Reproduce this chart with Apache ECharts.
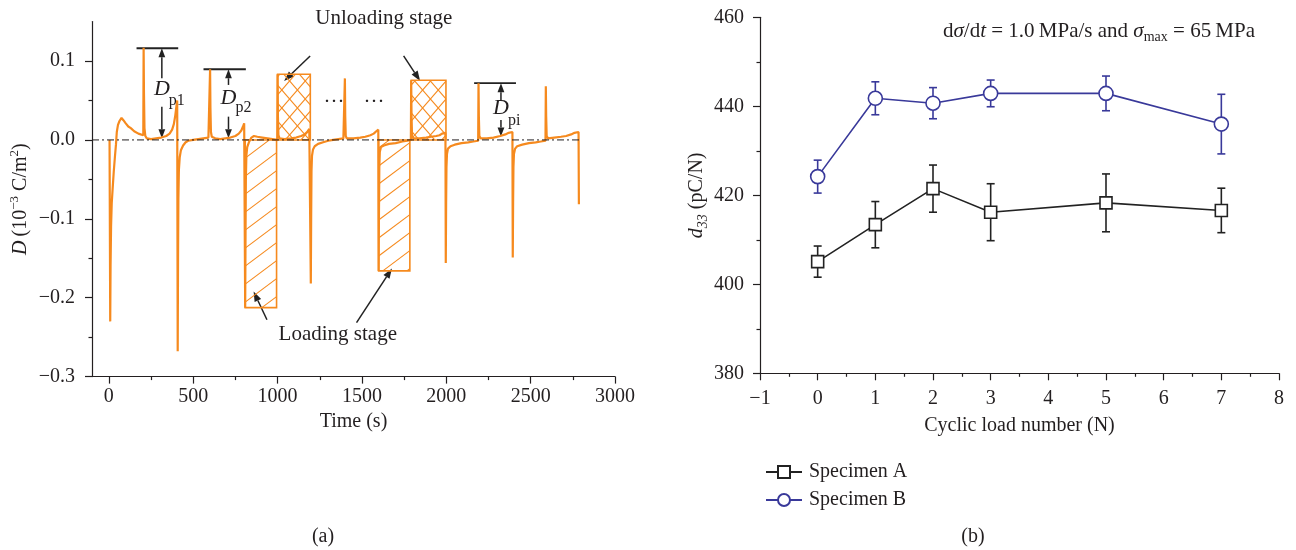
<!DOCTYPE html>
<html><head><meta charset="utf-8">
<script src="https://cdn.jsdelivr.net/npm/echarts@6/dist/echarts.min.js"></script>
<style>html,body{margin:0;padding:0;background:#fff}#c{width:1296px;height:550px}</style>
</head><body><div id="c"></div>
<script>
// ---------- Panel (a): D (10^-3 C/m^2) versus time (s) ----------
const curveCycle1 = [[4,0],[8,-0.23],[10,-0.16],[13,-0.11],[17,-0.08],[22,-0.063],[29,-0.04],[36,-0.021],[42,-0.006],[47,0.01],[54,0.019],[63,0.024],[75,0.028],[86,0.025],[100,0.021],[115,0.017],[130,0.015],[150,0.011],[175,0.008],[204,0.006],
  [206,0.117],[208,0.06],[211,0.015],[216,0.005],[225,0.002],[250,0.001],[280,0.002],[310,0.003],[340,0.005],[360,0.008],[375,0.013],[385,0.02],[393,0.03],[400,0.042],[405,0.05]];
const curveCycle2 = [[408,-0.268],[410,-0.15],[412,-0.075],[415,-0.038],[420,-0.022],[427,-0.013],[440,-0.007],[455,-0.003],[470,-0.001],[500,0.0],[530,0.001],[560,0.002],[590,0.003],[598,0.003],
  [600,0.0896],[602,0.04],[605,0.01],[610,0.004],[630,0.002],[660,0.001],[690,0.002],[720,0.003],[750,0.005],[770,0.008],[785,0.012],[795,0.017],[802,0.021],[806,0.021]];
const curveCycle3 = [[808,-0.2126],[810,-0.12],[812,-0.05],[815,-0.02],[820,-0.009],[830,-0.003],[845,0.003],[860,0.005],[880,0.004],[910,0.003],[940,0.002],[970,0.001],[998,0.0],
  [1000,0.0833],[1002,0.03],[1005,0.006],[1012,0.002],[1040,0.001],[1080,0.002],[1110,0.003],[1140,0.005],[1160,0.007],[1175,0.01],[1188,0.014],[1195,0.016]];
const curveCycle4 = [[1197,-0.182],[1199,-0.1],[1201,-0.04],[1204,-0.02],[1210,-0.012],[1220,-0.008],[1240,-0.005],[1270,-0.003],[1300,-0.001],[1330,0.0],[1360,0.001],[1390,0.002],[1397,0.002],
  [1399,0.078],[1401,0.03],[1404,0.005],[1410,0.002],[1450,0.002],[1490,0.003],[1520,0.004],[1550,0.006],[1570,0.008],[1585,0.011],[1597,0.013]];
const curveCycle5 = [[1599,-0.166],[1601,-0.09],[1603,-0.035],[1606,-0.015],[1613,-0.009],[1630,-0.007],[1660,-0.005],[1700,-0.004],[1740,-0.002],[1770,-0.001],[1790,0.0],
  [1792,0.0756],[1794,0.03],[1797,0.005],[1805,0.002],[1840,0.002],[1880,0.003],[1910,0.004],[1940,0.005],[1960,0.006],[1975,0.008],[1995,0.009]];
const curveCycle6 = [[1997,-0.156],[1999,-0.08],[2001,-0.035],[2004,-0.018],[2010,-0.011],[2025,-0.008],[2050,-0.006],[2090,-0.004],[2130,-0.003],[2160,-0.002],[2189,-0.001],
  [2191,0.0719],[2193,0.03],[2196,0.005],[2204,0.002],[2240,0.002],[2280,0.003],[2320,0.005],[2350,0.007],[2370,0.009],[2392,0.01]];
const curveCycle7 = [[2394,-0.149],[2396,-0.08],[2398,-0.035],[2401,-0.018],[2408,-0.011],[2420,-0.008],[2450,-0.006],[2490,-0.004],[2530,-0.003],[2560,-0.002],[2588,-0.001],
  [2590,0.068],[2592,0.03],[2595,0.005],[2603,0.002],[2640,0.003],[2680,0.004],[2710,0.005],[2740,0.007],[2760,0.009],[2784,0.01]];
const curveEnd = [[2786,-0.0815]];

const timeTicks = [0,500,1000,1500,2000,2500,3000];
const timeMinorTicks = [250,750,1250,1750,2250,2750];
const dTicks = [-0.3,-0.2,-0.1,0,0.1];
const dMinorTicks = [-0.25,-0.15,-0.05,0.05];
const zeroLine = [[-100,0],[2800,0]];

// hatched stages: [t start, t end, D low, D high]
const loadingStages = [[808,994,-0.2126,0],[1599,1784,-0.166,0]];
const unloadingStages = [[1000,1194,0,0.0833],[1792,1998,0,0.0756]];

// ---------- Panel (b): d33 (pC/N) versus cyclic load number ----------
const cycleNumbers = [0,1,2,3,5,7];
const specimenA = [405.1,413.4,421.5,416.2,418.3,416.6];
const specimenAErr = [3.5,5.2,5.3,6.4,6.5,5.0];
const specimenB = [424.2,441.8,440.7,442.9,442.9,436.0];
const specimenBErr = [3.7,3.7,3.5,3.0,3.9,6.7];

// ---------- annotations of panel (a), in data units ----------
const stageArrows = [
  {from:[1193,0.1065], to:[1039,0.0748]},
  {from:[1747,0.1065], to:[1845,0.0748]},
  {from:[937,-0.228], to:[858,-0.192]},
  {from:[1468,-0.2316], to:[1678,-0.163]}
];
const peakMarks = [
  {sub:'p1', bar:[164,411], t:314, top:0.1162, s1:0.0782, s2:0.0422, bottom:0.0022, dY:0.0646, subY:0.0494},
  {sub:'p2', bar:[561,812], t:709, top:0.0896, s1:0.0697, s2:0.0295, bottom:0.0022, dY:0.0529, subY:0.0412},
  {sub:'pi', bar:[2165,2413], t:2324, top:0.0719, s1:0.0507, s2:0.0253, bottom:0.0042, dY:0.0402, subY:0.0241}
];
const textNotes = [
  {text:'Unloading stage', at:[1630,0.154]},
  {text:'Loading stage', at:[1357,-0.246]},
  {text:'···', at:[1334,0.047]},
  {text:'···', at:[1571,0.047]}
];

const ORANGE = '#f68a1e', INK = '#231f20', BLUE = '#39399a';
const FONT = "'Liberation Serif','Times New Roman',serif";
const FS = 20;

const curve = [].concat(curveCycle1, curveCycle2, curveCycle3, curveCycle4, curveCycle5, curveCycle6, curveCycle7, curveEnd);

function minusFmt(v, digits){
  if (Math.abs(v) < 1e-9) return digits ? (0).toFixed(digits) : '0';
  const s = digits ? Math.abs(v).toFixed(digits) : String(Math.abs(v));
  return (v < 0 ? '\u2212' : '') + s;
}

function hatch(L,T,R,B,k,step){
  const cs=[T+k*L,T+k*R,B+k*L,B+k*R];
  const cMin=Math.min.apply(null,cs), cMax=Math.max.apply(null,cs);
  const segs=[];
  for(let c=Math.ceil(cMin/step)*step; c<=cMax; c+=step){
    const xa=(c-B)/k, xb=(c-T)/k;
    const lo=Math.max(L,Math.min(xa,xb)), hi=Math.min(R,Math.max(xa,xb));
    if(hi>lo+0.5) segs.push({x1:lo,y1:c-k*lo,x2:hi,y2:c-k*hi});
  }
  return segs;
}
function hatchRender(families, step){
  return function(params, api){
    const a = api.coord([api.value(0), api.value(3)]);
    const b = api.coord([api.value(1), api.value(2)]);
    const L=a[0],T=a[1],R=b[0],B=b[1];
    const children=[];
    families.forEach(k=>hatch(L,T,R,B,k,step).forEach(s=>children.push({type:'line',shape:s,style:{stroke:ORANGE,lineWidth:1.1}})));
    children.push({type:'rect',shape:{x:L,y:T,width:R-L,height:B-T},style:{fill:null,stroke:ORANGE,lineWidth:1.6}});
    return {type:'group',children};
  };
}
function errRender(color){
  return function(params, api){
    const x=api.value(0), lo=api.value(1), hi=api.value(2);
    const p1=api.coord([x,hi]), p2=api.coord([x,lo]), w=4;
    const st={stroke:color,lineWidth:1.6};
    return {type:'group',children:[
      {type:'line',shape:{x1:p1[0],y1:p1[1],x2:p2[0],y2:p2[1]},style:st},
      {type:'line',shape:{x1:p1[0]-w,y1:p1[1],x2:p1[0]+w,y2:p1[1]},style:st},
      {type:'line',shape:{x1:p2[0]-w,y1:p2[1],x2:p2[0]+w,y2:p2[1]},style:st}
    ]};
  };
}

const axisLineS = {onZero:false, lineStyle:{color:INK,width:1.2}};
const hiddenLine = {show:false, onZero:false};
const tickS = {length:7, lineStyle:{color:INK,width:1.2}};
const minorS = {show:true, splitNumber:2, length:3.5, lineStyle:{color:INK,width:1.2}};
const labelS = {color:INK, fontFamily:FONT, fontSize:FS};
const nameS = {color:INK, fontFamily:FONT, fontSize:FS};

const chart = echarts.init(document.getElementById('c'), null, {renderer:'canvas'});
const option = {
  animation:false,
  backgroundColor:'#fff',
  textStyle:{fontFamily:FONT},
  grid:[
    {left:92, top:21.6, width:523, height:355},
    {left:760, top:17.3, width:519, height:356}
  ],
  legend:{
    data:['Specimen A','Specimen B'], orient:'vertical', left:760, top:457,
    itemWidth:36, itemHeight:15, itemGap:8,
    textStyle:{color:INK, fontFamily:FONT, fontSize:FS, padding:[0,0,0,2]}
  },
  xAxis:[
    {gridIndex:0, type:'value', position:'bottom', min:-100, max:3000,
     axisLine:axisLineS, axisTick:Object.assign({customValues:timeTicks}, tickS),
     axisLabel:Object.assign({customValues:timeTicks, margin:10, formatter:v=>String(v)}, labelS),
     splitLine:{show:false}, name:'Time (s)', nameLocation:'middle', nameGap:27, nameTextStyle:nameS},
    {gridIndex:0, type:'value', position:'bottom', min:-100, max:3000,
     axisLine:hiddenLine, axisLabel:{show:false}, splitLine:{show:false},
     axisTick:{customValues:timeMinorTicks, length:3.5, lineStyle:{color:INK,width:1.2}}},
    {gridIndex:1, type:'value', position:'bottom', min:-1, max:8, interval:1,
     axisLine:axisLineS, axisTick:tickS, minorTick:minorS,
     axisLabel:Object.assign({margin:15, formatter:v=>minusFmt(v,0)}, labelS),
     splitLine:{show:false}, minorSplitLine:{show:false},
     name:'Cyclic load number (N)', nameLocation:'middle', nameGap:42, nameTextStyle:nameS}
  ],
  yAxis:[
    {gridIndex:0, type:'value', position:'left', min:-0.3, max:0.15,
     axisLine:axisLineS, axisTick:Object.assign({customValues:dTicks}, tickS),
     axisLabel:Object.assign({customValues:dTicks, margin:17, formatter:v=>minusFmt(v,1)}, labelS),
     splitLine:{show:false},
     name:'{i|D}\u2009(10{sup|\u22123} C/m{sup|2})', nameLocation:'middle', nameGap:58, nameRotate:90,
     nameTextStyle:Object.assign({lineHeight:26, rich:{
       i:{fontStyle:'italic', fontFamily:FONT, fontSize:FS, lineHeight:26, color:INK},
       sup:{fontFamily:FONT, fontSize:13, lineHeight:14, verticalAlign:'top', color:INK}}}, nameS)},
    {gridIndex:0, type:'value', position:'left', min:-0.3, max:0.15,
     axisLine:hiddenLine, axisLabel:{show:false}, splitLine:{show:false},
     axisTick:{customValues:dMinorTicks, length:3.5, lineStyle:{color:INK,width:1.2}}},
    {gridIndex:1, type:'value', position:'left', min:380, max:460, interval:20,
     axisLine:axisLineS, axisTick:tickS, minorTick:minorS,
     axisLabel:Object.assign({margin:16}, labelS),
     splitLine:{show:false}, minorSplitLine:{show:false},
     name:'{i|d}{sub|33} (pC/N)', nameLocation:'middle', nameGap:37, nameRotate:90,
     nameTextStyle:Object.assign({lineHeight:26, rich:{
       i:{fontStyle:'italic', fontFamily:FONT, fontSize:FS, lineHeight:26, color:INK},
       sub:{fontStyle:'italic', fontFamily:FONT, fontSize:14, lineHeight:14, verticalAlign:'bottom', color:INK}}}, nameS)}
  ],
  series:[
    {type:'line', name:'D', xAxisIndex:0, yAxisIndex:0, data:curve, showSymbol:false, symbol:'none',
     lineStyle:{color:ORANGE, width:2.2}, z:3, silent:true},
    {type:'line', xAxisIndex:0, yAxisIndex:0, data:zeroLine, symbol:'none',
     lineStyle:{color:INK, width:1, type:[7,3,2,3]}, z:4, silent:true},
    {type:'custom', xAxisIndex:0, yAxisIndex:0, data:loadingStages, encode:{x:[0,1], y:[2,3]},
     renderItem:hatchRender([0.75], 18), clip:false, z:2, silent:true},
    {type:'custom', xAxisIndex:0, yAxisIndex:0, data:unloadingStages, encode:{x:[0,1], y:[2,3]},
     renderItem:hatchRender([1.15,-1.15], 18), clip:false, z:2, silent:true},
    {type:'custom', xAxisIndex:2, yAxisIndex:2, encode:{x:0, y:[1,2]},
     data:cycleNumbers.map((c,i)=>[c, specimenA[i]-specimenAErr[i], specimenA[i]+specimenAErr[i]]),
     renderItem:errRender('#222'), z:1, silent:true},
    {type:'custom', xAxisIndex:2, yAxisIndex:2, encode:{x:0, y:[1,2]},
     data:cycleNumbers.map((c,i)=>[c, specimenB[i]-specimenBErr[i], specimenB[i]+specimenBErr[i]]),
     renderItem:errRender(BLUE), z:1, silent:true},
    {type:'line', name:'Specimen A', xAxisIndex:2, yAxisIndex:2,
     data:cycleNumbers.map((c,i)=>[c, specimenA[i]]), symbol:'rect', symbolSize:12,
     itemStyle:{color:'#fff', borderColor:'#222', borderWidth:1.6},
     lineStyle:{color:'#222', width:1.6}, z:3},
    {type:'line', name:'Specimen B', xAxisIndex:2, yAxisIndex:2,
     data:cycleNumbers.map((c,i)=>[c, specimenB[i]]), symbol:'circle', symbolSize:14,
     itemStyle:{color:'#fff', borderColor:BLUE, borderWidth:1.6},
     lineStyle:{color:BLUE, width:1.6}, z:3}
  ]
};
chart.setOption(option);

// ---- annotations placed through the axes of panel (a) ----
const px = p => chart.convertToPixel({seriesIndex:0}, p);
function arrow(p0, p1, head, hw){
  const dx=p1[0]-p0[0], dy=p1[1]-p0[1], len=Math.hypot(dx,dy), ux=dx/len, uy=dy/len;
  const bx=p1[0]-ux*head, by=p1[1]-uy*head;
  return [
    {type:'line', silent:true, shape:{x1:p0[0],y1:p0[1],x2:bx,y2:by}, style:{stroke:'#222',lineWidth:1.5}},
    {type:'polygon', silent:true, shape:{points:[[p1[0],p1[1]],[bx-uy*hw,by+ux*hw],[bx+uy*hw,by-ux*hw]]}, style:{fill:'#222'}}
  ];
}
const els = [];
stageArrows.forEach(a=>{ els.push.apply(els, arrow(px(a.from), px(a.to), 10, 3.6)); });
peakMarks.forEach(m=>{
  const b0=px([m.bar[0], m.top]), b1=px([m.bar[1], m.top]);
  els.push({type:'line', silent:true, shape:{x1:b0[0],y1:b0[1],x2:b1[0],y2:b1[1]}, style:{stroke:'#222',lineWidth:1.8}});
  els.push.apply(els, arrow(px([m.t, m.s1]), px([m.t, m.top]), 9, 3.4));
  els.push.apply(els, arrow(px([m.t, m.s2]), px([m.t, m.bottom]), 9, 3.4));
  const d=px([m.t, m.dY]), s=px([m.t, m.subY]);
  els.push({type:'text', silent:true, style:{x:d[0], y:d[1], text:'D', font:'italic 22px '+FONT, fill:INK, align:'center', verticalAlign:'middle'}});
  els.push({type:'text', silent:true, style:{x:s[0]+7, y:s[1], text:m.sub, font:'16px '+FONT, fill:INK, align:'left', verticalAlign:'middle'}});
});
textNotes.forEach(n=>{
  const p=px(n.at);
  els.push({type:'text', silent:true, style:{x:p[0], y:p[1], text:n.text, font:'21px '+FONT, fill:INK, align:'center', verticalAlign:'middle'}});
});
els.push({type:'text', silent:true, style:{x:943, y:31, text:'d{i|σ}/d{i|t} = 1.0\u2009MPa/s and {i|σ}{sub|max} = 65\u2009MPa',
  font:'21px '+FONT, fill:INK, align:'left', verticalAlign:'middle', lineHeight:26,
  rich:{i:{fontStyle:'italic', fontFamily:FONT, fontSize:21, lineHeight:26, fill:INK},
        sub:{fontFamily:FONT, fontSize:14, lineHeight:12, verticalAlign:'bottom', fill:INK}}}});
els.push({type:'text', silent:true, style:{x:323, y:537, text:'(a)', font:'20px '+FONT, fill:INK, align:'center', verticalAlign:'middle'}});
els.push({type:'text', silent:true, style:{x:973, y:537, text:'(b)', font:'20px '+FONT, fill:INK, align:'center', verticalAlign:'middle'}});
chart.setOption({graphic:{elements:els}});
</script>
</body></html>
